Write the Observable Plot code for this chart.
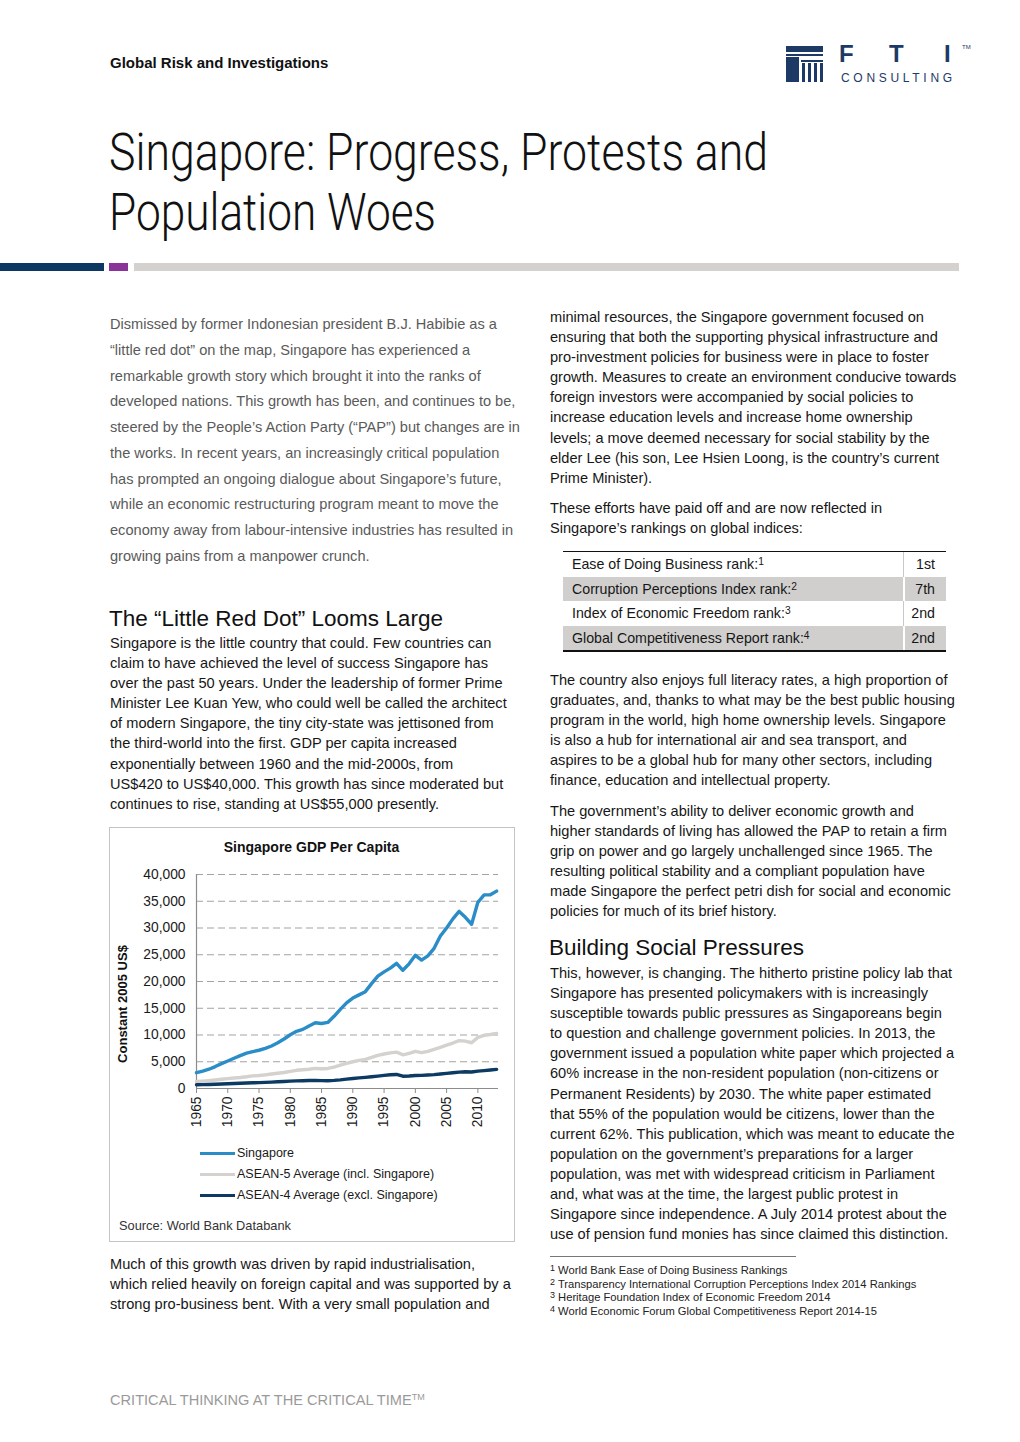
<!DOCTYPE html>
<html><head><meta charset="utf-8">
<script src="https://cdn.jsdelivr.net/npm/d3@7"></script>
<script src="https://cdn.jsdelivr.net/npm/@observablehq/plot@0.6"></script>
<style>
body{margin:0;background:#fff;width:1020px;height:1442px;position:relative;overflow:hidden;font-family:"Liberation Sans",Arial,sans-serif;color:#161616}
.abs{position:absolute}
.nw div{white-space:nowrap}
.body{font-size:14.6px;line-height:20.1px}
.intro{font-size:14.6px;line-height:25.75px;color:#5a5a5a}
.h2{font-size:22.5px;line-height:26px;white-space:nowrap;color:#111}
sup{font-size:0.72em;vertical-align:0.4em;line-height:0}
.fit{display:inline-block;transform-origin:0 50%;white-space:nowrap}
.tr{position:absolute;left:563px;width:383px;height:24.6px;font-size:14.2px;line-height:24.6px}
.tr .a{position:absolute;left:9px}
.tr .b{position:absolute;right:11px}
.tr.g{background:#d0cfce}
.fn{font-size:11.2px;line-height:13.6px;color:#222}
.fn sup{font-size:0.8em;vertical-align:0.3em}
.leg{position:absolute;left:200px;font-size:12.5px;line-height:14px;color:#1a1a1a;white-space:nowrap}
.leg i{position:absolute;left:0;top:5.5px;width:35px;height:3.4px}
.leg span{position:absolute;left:37px;top:0}
</style></head><body>

<!-- header -->
<div class="abs" style="left:110px;top:54px;font-size:15px;font-weight:bold;line-height:18px;white-space:nowrap;color:#111">Global Risk and Investigations</div>

<!-- logo -->
<div class="abs" style="left:786px;top:46px;width:37px;height:6px;background:#1d3a67"></div>
<div class="abs" style="left:786px;top:53.5px;width:37px;height:2.5px;background:#1d3a67"></div>
<div class="abs" style="left:786px;top:57px;width:13px;height:25px;background:#1d3a67"></div>
<div class="abs" style="left:801px;top:60px;width:22px;height:2px;background:#1d3a67"></div>
<div class="abs" style="left:802px;top:63px;width:3px;height:19px;background:#1d3a67"></div>
<div class="abs" style="left:808px;top:63px;width:3px;height:19px;background:#1d3a67"></div>
<div class="abs" style="left:814px;top:63px;width:3px;height:19px;background:#1d3a67"></div>
<div class="abs" style="left:820px;top:63px;width:3px;height:19px;background:#1d3a67"></div>
<div class="abs" style="left:839px;top:40px;font-size:24px;font-weight:bold;line-height:28px;color:#1d3a67">F</div>
<div class="abs" style="left:889px;top:40px;font-size:24px;font-weight:bold;line-height:28px;color:#1d3a67">T</div>
<div class="abs" style="left:944px;top:40px;font-size:24px;font-weight:bold;line-height:28px;color:#1d3a67">I</div>
<div class="abs" style="left:962px;top:44px;font-size:6px;line-height:7px;color:#1d3a67">TM</div>
<div class="abs" style="left:841px;top:71px;font-size:12px;line-height:14px;letter-spacing:3.7px;color:#1d3a67;white-space:nowrap">CONSULTING</div>

<!-- title -->
<div class="abs" style="left:109px;top:127px;font-family:Roboto,sans-serif;font-weight:300;font-size:51px;line-height:52px;color:#111"><span class="fit" data-fit="659">Singapore: Progress, Protests and</span></div>
<div class="abs" style="left:109px;top:187px;font-family:Roboto,sans-serif;font-weight:300;font-size:51px;line-height:52px;color:#111"><span class="fit" data-fit="327">Population Woes</span></div>

<!-- colour bar -->
<div class="abs" style="left:0;top:263px;width:104px;height:8px;background:#0f3764"></div>
<div class="abs" style="left:109px;top:263px;width:19px;height:8px;background:#8a3399"></div>
<div class="abs" style="left:134px;top:263px;width:825px;height:8px;background:#d5d1ce"></div>

<!-- intro -->
<div class="abs intro nw" style="left:110px;top:312px">
<div>Dismissed by former Indonesian president B.J. Habibie as a</div>
<div>“little red dot” on the map, Singapore has experienced a</div>
<div>remarkable growth story which brought it into the ranks of</div>
<div>developed nations. This growth has been, and continues to be,</div>
<div>steered by the People’s Action Party (“PAP”) but changes are in</div>
<div>the works. In recent years, an increasingly critical population</div>
<div>has prompted an ongoing dialogue about Singapore’s future,</div>
<div>while an economic restructuring program meant to move the</div>
<div>economy away from labour-intensive industries has resulted in</div>
<div>growing pains from a manpower crunch.</div>
</div>

<div class="abs h2" style="left:109px;top:606px">The “Little Red Dot” Looms Large</div>
<div class="abs body nw" style="left:110px;top:633px">
<div>Singapore is the little country that could. Few countries can</div>
<div>claim to have achieved the level of success Singapore has</div>
<div>over the past 50 years. Under the leadership of former Prime</div>
<div>Minister Lee Kuan Yew, who could well be called the architect</div>
<div>of modern Singapore, the tiny city-state was jettisoned from</div>
<div>the third-world into the first. GDP per capita increased</div>
<div>exponentially between 1960 and the mid-2000s, from</div>
<div>US$420 to US$40,000. This growth has since moderated but</div>
<div>continues to rise, standing at US$55,000 presently.</div>
</div>

<!-- chart box -->
<div class="abs" style="left:109px;top:827px;width:404px;height:413px;border:1px solid #c4c4c4"></div>
<div class="abs" style="left:109px;top:838px;width:405px;text-align:center;font-size:14px;font-weight:bold;line-height:18px;color:#111">Singapore GDP Per Capita</div>
<div class="abs" style="left:123px;top:1004px;width:0;height:0"><div style="position:absolute;left:-80px;top:-9px;width:160px;text-align:center;font-size:13px;font-weight:bold;line-height:18px;transform:rotate(-90deg);white-space:nowrap;color:#111">Constant 2005 US$</div></div>
<div id="chart" class="abs" style="left:109px;top:860px"></div>
<div id="legend"></div>
<div class="abs" style="left:119px;top:1218px;font-size:12.8px;line-height:16px;color:#333;white-space:nowrap">Source: World Bank Databank</div>

<div class="abs body nw" style="left:110px;top:1254px">
<div>Much of this growth was driven by rapid industrialisation,</div>
<div>which relied heavily on foreign capital and was supported by a</div>
<div>strong pro-business bent. With a very small population and</div>
</div>

<!-- right column -->
<div class="abs body nw" style="left:550px;top:307px">
<div>minimal resources, the Singapore government focused on</div>
<div>ensuring that both the supporting physical infrastructure and</div>
<div>pro-investment policies for business were in place to foster</div>
<div>growth. Measures to create an environment conducive towards</div>
<div>foreign investors were accompanied by social policies to</div>
<div>increase education levels and increase home ownership</div>
<div>levels; a move deemed necessary for social stability by the</div>
<div>elder Lee (his son, Lee Hsien Loong, is the country’s current</div>
<div>Prime Minister).</div>
</div>
<div class="abs body nw" style="left:550px;top:498px">
<div>These efforts have paid off and are now reflected in</div>
<div>Singapore’s rankings on global indices:</div>
</div>

<!-- table -->
<div class="abs" style="left:563px;top:550.5px;width:383px;height:1.5px;background:#111"></div>
<div class="tr" style="top:552px"><span class="a">Ease of Doing Business rank:<sup>1</sup></span><span class="b">1st</span></div>
<div class="tr g" style="top:576.6px"><span class="a">Corruption Perceptions Index rank:<sup>2</sup></span><span class="b">7th</span></div>
<div class="tr" style="top:601.2px"><span class="a">Index of Economic Freedom rank:<sup>3</sup></span><span class="b">2nd</span></div>
<div class="tr g" style="top:625.8px"><span class="a">Global Competitiveness Report rank:<sup>4</sup></span><span class="b">2nd</span></div>
<div class="abs" style="left:903px;top:552px;width:1px;height:49px;background:#c8c8c8"></div>
<div class="abs" style="left:903px;top:576.6px;width:1.5px;height:24.6px;background:#fff"></div>
<div class="abs" style="left:903px;top:625.8px;width:1.5px;height:24.6px;background:#fff"></div>
<div class="abs" style="left:903px;top:601.2px;width:1px;height:24.6px;background:#c8c8c8"></div>
<div class="abs" style="left:563px;top:650.4px;width:383px;height:1.5px;background:#111"></div>

<div class="abs body nw" style="left:550px;top:670px">
<div>The country also enjoys full literacy rates, a high proportion of</div>
<div>graduates, and, thanks to what may be the best public housing</div>
<div>program in the world, high home ownership levels. Singapore</div>
<div>is also a hub for international air and sea transport, and</div>
<div>aspires to be a global hub for many other sectors, including</div>
<div>finance, education and intellectual property.</div>
</div>
<div class="abs body nw" style="left:550px;top:801px">
<div>The government’s ability to deliver economic growth and</div>
<div>higher standards of living has allowed the PAP to retain a firm</div>
<div>grip on power and go largely unchallenged since 1965. The</div>
<div>resulting political stability and a compliant population have</div>
<div>made Singapore the perfect petri dish for social and economic</div>
<div>policies for much of its brief history.</div>
</div>
<div class="abs h2" style="left:549px;top:935px">Building Social Pressures</div>
<div class="abs body nw" style="left:550px;top:963px">
<div>This, however, is changing. The hitherto pristine policy lab that</div>
<div>Singapore has presented policymakers with is increasingly</div>
<div>susceptible towards public pressures as Singaporeans begin</div>
<div>to question and challenge government policies. In 2013, the</div>
<div>government issued a population white paper which projected a</div>
<div>60% increase in the non-resident population (non-citizens or</div>
<div>Permanent Residents) by 2030. The white paper estimated</div>
<div>that 55% of the population would be citizens, lower than the</div>
<div>current 62%. This publication, which was meant to educate the</div>
<div>population on the government’s preparations for a larger</div>
<div>population, was met with widespread criticism in Parliament</div>
<div>and, what was at the time, the largest public protest in</div>
<div>Singapore since independence. A July 2014 protest about the</div>
<div>use of pension fund monies has since claimed this distinction.</div>
</div>

<div class="abs" style="left:550px;top:1256px;width:246px;height:1px;background:#777"></div>
<div class="abs fn nw" style="left:550px;top:1264px">
<div><sup>1</sup> World Bank Ease of Doing Business Rankings</div>
<div><sup>2</sup> Transparency International Corruption Perceptions Index 2014 Rankings</div>
<div><sup>3</sup> Heritage Foundation Index of Economic Freedom 2014</div>
<div><sup>4</sup> World Economic Forum Global Competitiveness Report 2014-15</div>
</div>

<div class="abs" style="left:110px;top:1391px;font-size:14.6px;line-height:18px;color:#9a9a9a;white-space:nowrap">CRITICAL THINKING AT THE CRITICAL TIME<sup style="font-size:0.62em;vertical-align:0.5em">TM</sup></div>

<script>
// ---- chart data ----
const years = [1965,1966,1967,1968,1969,1970,1971,1972,1973,1974,1975,1976,1977,1978,1979,1980,1981,1982,1983,1984,1985,1986,1987,1988,1989,1990,1991,1992,1993,1994,1995,1996,1997,1998,1999,2000,2001,2002,2003,2004,2005,2006,2007,2008,2009,2010,2011,2012,2013];
const singapore = [2950,3250,3600,4100,4650,5150,5650,6150,6600,6900,7150,7500,7950,8550,9250,10050,10700,11050,11700,12300,12150,12350,13500,14800,16000,16900,17500,18100,19600,21000,21800,22500,23400,22100,23300,24900,24000,24800,26200,28500,30000,31700,33100,32000,30700,34800,36200,36200,36900];
const asean5 = [1300,1380,1480,1600,1720,1850,1950,2060,2200,2350,2420,2550,2700,2850,3000,3200,3400,3500,3600,3750,3700,3750,4000,4350,4700,5000,5250,5450,5800,6200,6450,6650,6800,6300,6550,6950,6700,6950,7300,7700,8100,8500,8950,8850,8550,9550,9950,10100,10300];
const asean4 = [700,730,760,800,850,900,930,970,1030,1070,1100,1150,1200,1260,1320,1380,1420,1450,1490,1520,1480,1460,1520,1620,1750,1880,1980,2080,2200,2320,2460,2580,2620,2300,2330,2440,2450,2520,2600,2720,2820,2940,3060,3120,3080,3250,3350,3460,3570];
const seriesNames = ["Singapore","ASEAN-5 Average (incl. Singapore)","ASEAN-4 Average (excl. Singapore)"];
const seriesColors = ["#2b8dc8","#d4d1ce","#0c3a63"];
const yTicks = [0,5000,10000,15000,20000,25000,30000,35000,40000];
const xTicks = [1965,1970,1975,1980,1985,1990,1995,2000,2005,2010];

const seriesValues = [singapore, asean5, asean4];
const drawOrder = [1, 2, 0];
const data = drawOrder.flatMap(s => years.map((yr, i) => ({year: yr, value: seriesValues[s][i], series: seriesNames[s]})));

const chart = Plot.plot({
  width: 405, height: 280,
  marginLeft: 87, marginRight: 16, marginTop: 14, marginBottom: 52,
  x: {domain: [1965, 2013.3]},
  y: {domain: [0, 40000]},
  color: {domain: seriesNames, range: seriesColors},
  style: {fontFamily: "'Liberation Sans', Arial, sans-serif", fontSize: "13.8px", color: "#1a1a1a", background: "transparent", overflow: "visible"},
  marks: [
    Plot.ruleY(yTicks.filter(d => d > 0), {stroke: "#a3a3a3", strokeWidth: 1.1, strokeDasharray: "7,4"}),
    Plot.ruleX([1965], {y1: 0, y2: 40000, stroke: "#8c8c8c", strokeWidth: 1.2}),
    Plot.ruleY([0], {stroke: "#8c8c8c", strokeWidth: 1.2}),
    Plot.axisY({ticks: yTicks, tickSize: 0, tickPadding: 11, fontSize: 13.8, tickFormat: d3.format(","), label: null}),
    Plot.axisX({ticks: xTicks, tickSize: 5, tickPadding: 3, fontSize: 13.8, tickRotate: -90, tickFormat: d => String(d), label: null, stroke: "#8c8c8c"}),
    Plot.line(data, {x: "year", y: "value", z: "series", stroke: "series", strokeWidth: 3.4, strokeLinejoin: "round", strokeLinecap: "round"})
  ]
});
document.getElementById("chart").appendChild(chart);

// legend
const legendTops = [1146, 1167, 1188];
const legend = document.getElementById("legend");
seriesNames.forEach((name, i) => {
  const d = document.createElement("div");
  d.className = "leg";
  d.style.top = legendTops[i] + "px";
  d.innerHTML = `<i style="background:${seriesColors[i]}"></i><span>${name}</span>`;
  legend.appendChild(d);
});

// fit condensed title lines
document.querySelectorAll(".fit").forEach(el => {
  const w = el.getBoundingClientRect().width;
  el.style.transform = `scaleX(${(+el.dataset.fit) / w})`;
});
</script>
</body></html>
